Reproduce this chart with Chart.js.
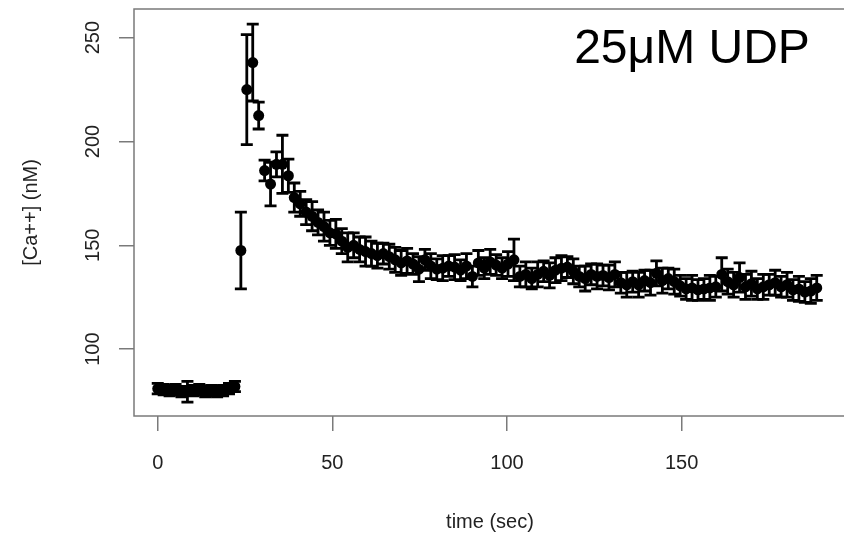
<!DOCTYPE html>
<html><head><meta charset="utf-8">
<script src="https://cdn.jsdelivr.net/npm/chart.js@4"></script>
<style>
html,body{margin:0;padding:0;background:#fff;overflow:hidden;width:844px;height:535px}
#wrap{width:860px;height:535px;position:relative}
</style>
</head><body><div id="wrap"><canvas id="c" width="860" height="535"></canvas></div>
<script>
const timeSec = [
0, 1.7, 3.4, 5.1, 6.8, 8.5, 10.2, 11.9, 13.6, 15.3,
17, 18.7, 20.4, 22.1, 23.8, 25.5, 27.2, 28.9, 30.6, 32.3,
34, 35.7, 37.4, 39.1, 40.8, 42.5, 44.2, 45.9, 47.6, 49.3,
51, 52.7, 54.4, 56.1, 57.8, 59.5, 61.2, 62.9, 64.6, 66.3,
68, 69.7, 71.4, 73.1, 74.8, 76.5, 78.2, 79.9, 81.6, 83.3,
85, 86.7, 88.4, 90.1, 91.8, 93.5, 95.2, 96.9, 98.6, 100.3,
102, 103.7, 105.4, 107.1, 108.8, 110.5, 112.2, 113.9, 115.6, 117.3,
119, 120.7, 122.4, 124.1, 125.8, 127.5, 129.2, 130.9, 132.6, 134.3,
136, 137.7, 139.4, 141.1, 142.8, 144.5, 146.2, 147.9, 149.6, 151.3,
153, 154.7, 156.4, 158.1, 159.8, 161.5, 163.2, 164.9, 166.6, 168.3,
170, 171.7, 173.4, 175.1, 176.8, 178.5, 180.2, 181.9, 183.6, 185.3,
187, 188.7];
const calciumNM = [
81, 80.5, 80, 80.5, 79.5, 79.5, 80, 80.5, 79.5, 80,
79.5, 80, 81, 82, 147.5, 225, 238, 212.5, 186, 179.5,
189, 189, 183.5, 173, 170, 166, 164, 161, 159, 156,
155.5, 152, 149, 150, 148, 147, 146, 145, 146, 144.5,
143, 141.5, 142.5, 141, 138.5, 143, 140, 138.5, 139, 140,
139.5, 138, 140, 135, 141.5, 139, 142, 140.5, 139, 141,
143, 135, 136, 134, 136, 137.5, 135.5, 138, 139, 139.5,
137.5, 135, 134, 136, 135, 135.5, 134.5, 136, 132, 131,
132.5, 131, 133, 132, 136.5, 133, 134, 132.5, 130.5, 129,
129.5, 128.5, 129, 129.5, 130, 136, 132.5, 131, 134.5, 130,
131.5, 129, 130, 131, 132, 130, 131, 128.5, 129, 127.5,
128, 129.5];
const errorNM = [
2.5, 2.5, 2.5, 2.5, 2.5, 5, 2.5, 2.5, 2.5, 2.5,
2.5, 2.5, 2.5, 2.5, 18.5, 26.5, 18.5, 6.5, 5, 10.5,
6, 14, 8, 7, 6, 6, 7, 6, 7, 6,
7, 6, 7, 6, 6, 7, 6, 6, 5, 6,
6, 6, 6, 5, 6, 5, 6, 5, 6, 5,
6, 5, 6, 5, 6, 5, 6, 5, 5, 6,
10, 5, 6, 5, 6, 5, 6, 6, 6, 5,
6, 5, 6, 5, 6, 5, 6, 6, 5, 6,
5, 6, 5, 6, 6, 6, 5, 6, 5, 5,
6, 5, 5, 6, 5, 8, 6, 6, 7, 6,
6, 5, 6, 5, 6, 5, 6, 5, 6, 5,
6, 6];
const xTickValues = [0, 50, 100, 150];
const yTickValues = [100, 150, 200, 250];
const xTitle = 'time (sec)';
const yTitle = '[Ca++] (nM)';
const panelLabel = '25\u03bcM UDP';

const FONT = '"Liberation Sans", Arial, Helvetica, sans-serif';
const AXIS_FONT_SIZE = 20;

const errorBarPlugin = {
  id: 'errorBars',
  beforeDatasetsDraw(chart) {
    const ctx = chart.ctx, xs = chart.scales.x, ys = chart.scales.y;
    ctx.save();
    ctx.strokeStyle = '#000';
    ctx.lineWidth = 2.8;
    ctx.lineCap = 'butt';
    for (let i = 0; i < timeSec.length; i++) {
      const x = xs.getPixelForValue(timeSec[i]);
      const yTop = ys.getPixelForValue(calciumNM[i] + errorNM[i]);
      const yBot = ys.getPixelForValue(calciumNM[i] - errorNM[i]);
      ctx.beginPath();
      ctx.moveTo(x, yTop); ctx.lineTo(x, yBot);
      ctx.moveTo(x - 6, yTop); ctx.lineTo(x + 6, yTop);
      ctx.moveTo(x - 6, yBot); ctx.lineTo(x + 6, yBot);
      ctx.stroke();
    }
    ctx.restore();
  }
};

const framePlugin = {
  id: 'frame',
  afterDraw(chart) {
    const ctx = chart.ctx, a = chart.chartArea, ys = chart.scales.y;
    ctx.save();
    ctx.strokeStyle = '#7a7a7a';
    ctx.lineWidth = 1.5;
    ctx.strokeRect(a.left, a.top, a.right - a.left, a.bottom - a.top);
    ctx.fillStyle = '#222';
    ctx.font = AXIS_FONT_SIZE + 'px ' + FONT;
    ctx.textAlign = 'center';
    ctx.textBaseline = 'middle';
    yTickValues.forEach(v => {
      const y = ys.getPixelForValue(v);
      ctx.save();
      ctx.translate(93, y);
      ctx.rotate(-Math.PI / 2);
      ctx.fillText(String(v), 0, 0);
      ctx.restore();
    });
    ctx.save();
    ctx.translate(31, (a.top + a.bottom) / 2);
    ctx.rotate(-Math.PI / 2);
    ctx.fillText(yTitle, 0, 0);
    ctx.restore();
    ctx.fillText(xTitle, 490, 522);
    ctx.fillStyle = '#000';
    ctx.font = '48px ' + FONT;
    ctx.fillText(panelLabel, 692, 50);
    ctx.restore();
  }
};

new Chart(document.getElementById('c'), {
  type: 'scatter',
  data: {
    datasets: [{
      data: timeSec.map((t, i) => ({ x: t, y: calciumNM[i] })),
      pointRadius: 5.5,
      pointHoverRadius: 5.5,
      pointBackgroundColor: '#000',
      pointBorderWidth: 0,
      showLine: false
    }]
  },
  options: {
    responsive: false,
    animation: false,
    devicePixelRatio: 1,
    layout: { padding: { left: 0, top: 9, right: 8, bottom: 0 } },
    plugins: { legend: { display: false }, tooltip: { enabled: false } },
    scales: {
      x: {
        type: 'linear',
        min: -6.8,
        max: 198.8,
        afterBuildTicks: s => { s.ticks = xTickValues.map(v => ({ value: v })); },
        afterFit: s => { s.height = 535 - 416; },
        border: { display: false },
        grid: { drawOnChartArea: false, drawTicks: true, tickLength: 15, color: '#7a7a7a', lineWidth: 1.5 },
        ticks: { color: '#222', font: { family: FONT, size: AXIS_FONT_SIZE }, padding: 20, maxRotation: 0, autoSkip: false }
      },
      y: {
        type: 'linear',
        min: 67.8,
        max: 263.8,
        afterBuildTicks: s => { s.ticks = yTickValues.map(v => ({ value: v })); },
        afterFit: s => { s.width = 134; },
        border: { display: false },
        grid: { drawOnChartArea: false, drawTicks: true, tickLength: 15, color: '#7a7a7a', lineWidth: 1.5 },
        ticks: { display: false }
      }
    }
  },
  plugins: [errorBarPlugin, framePlugin]
});
</script>
</body></html>
